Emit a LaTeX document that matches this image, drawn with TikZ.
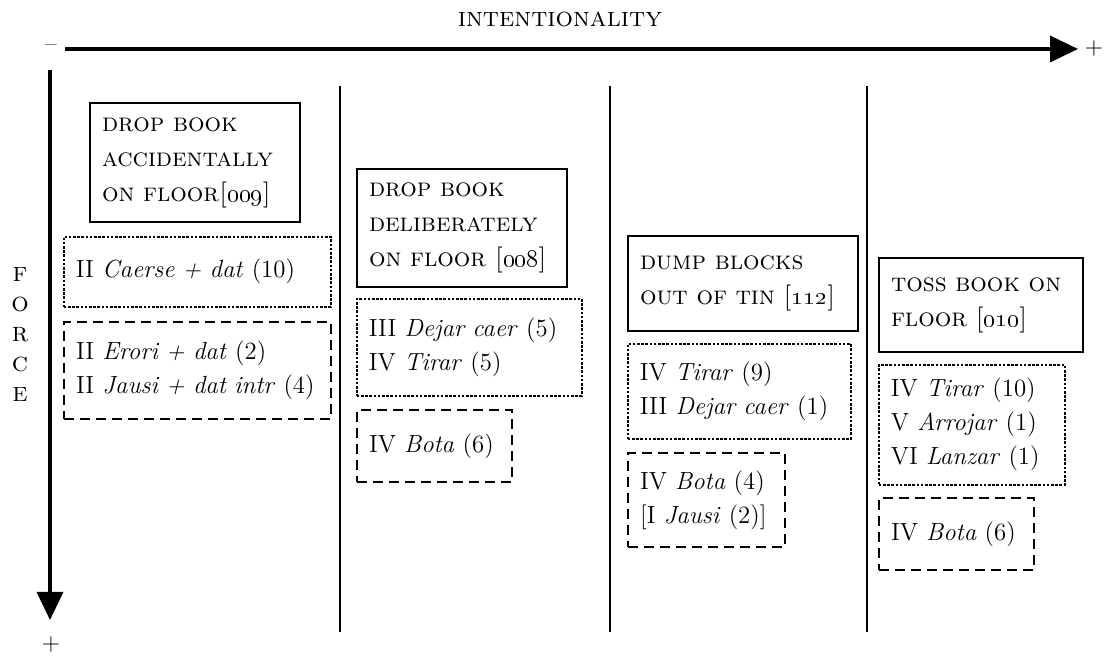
\documentclass[tikz,border=0pt]{standalone}
\usetikzlibrary{arrows.meta,positioning}
\newcommand{\evnum}[1]{[\oldstylenums{#1}]}

\begin{document}
\begin{tikzpicture}[x=0.5pt,y=-0.5pt,
  base/.style={anchor=north west,align=left,inner xsep=6pt,inner ysep=0pt,font=\fontsize{12.4}{17}\selectfont},
  size/.style 2 args={text width=#1,minimum height=#2},
  event/.style={base,draw,line width=1pt,font=\fontsize{13}{17.5}\selectfont\scshape},
  lexdot/.style={base,draw,line width=0.8pt,dash pattern=on 1.3pt off 0.8pt},
  lexdash/.style={base,draw,line width=1pt,dash pattern=on 5pt off 3pt},
  axis/.style={line width=1.8pt,-{Triangle[length=14pt,width=13pt]}},
  divider/.style={line width=0.75pt},
  lbl/.style={inner sep=0pt,font=\fontsize{13.7}{15}\selectfont\scshape},
  sign/.style={inner sep=0pt,font=\fontsize{12}{14}\selectfont}]
\useasboundingbox (0,0) rectangle (1104,657);
% axes
\coordinate (xstart) at (65,49);\coordinate (xend) at (1078,49);
\coordinate (ystart) at (50,70);\coordinate (yend) at (50,620);
\draw[axis](xstart)--(xend);\draw[axis](ystart)--(yend);
\node[lbl](intent) at (560,19){intentionality};
\node[sign](xminus) at (51,48){--};
\node[sign](xplus) at (1094,49){+};
\node[sign](yplus) at (51,645){+};
\node[lbl,align=center](force) at (20,335){f\\o\\r\\c\\e};
% columns
\coordinate (d1t) at (340,86);\coordinate (d1b) at (340,632);
\coordinate (d2t) at (610,86);\coordinate (d2b) at (610,632);
\coordinate (d3t) at (867,86);\coordinate (d3b) at (867,632);
\draw[divider](d1t)--(d1b);\draw[divider](d2t)--(d2b);\draw[divider](d3t)--(d3b);
% column 1
\node[event,size={93pt}{59.5pt}](acc) at (89,102){drop book\\accidentally\\on~floor\evnum{009}};
\node[lexdot,size={121.5pt}{35pt}](caerse) at (63,236){II \textit{Caerse + dat} (10)};
\node[lexdash,size={121.5pt}{48.5pt}](erori) at (63,321){II \textit{Erori + dat} (2)\\II~\textit{Jausi~+~dat~intr}~(4)};
% column 2
\node[event,size={93pt}{59pt}](delib) at (356,168){drop book\\deliberately\\on~floor~\evnum{008}};
\node[lexdot,size={100.5pt}{48.5pt}](dejar) at (356,298){III \textit{Dejar caer} (5)\\IV \textit{Tirar} (5)};
\node[lexdash,size={65.5pt}{36pt}](bota1) at (356,409){IV \textit{Bota} (6)};
% column 3
\node[event,size={103pt}{47.5pt}](dump) at (627,235){dump blocks\\out of tin \evnum{112}};
\node[lexdot,size={99.5pt}{47.5pt}](tirar1) at (627,343){IV \textit{Tirar} (9)\\III \textit{Dejar caer} (1)};
\node[lexdash,size={66.5pt}{47pt}](bota2) at (627,452){IV \textit{Bota} (4)\\{[}I \textit{Jausi} (2)]};
% column 4
\node[event,size={90pt}{47pt}](toss) at (878,257){toss book on\\floor \evnum{010}};
\node[lexdot,size={81pt}{60pt}](tirar2) at (878,364){IV \textit{Tirar} (10)\\V \textit{Arrojar} (1)\\VI \textit{Lanzar} (1)};
\node[lexdash,size={65.5pt}{36pt}](bota3) at (878,497){IV \textit{Bota} (6)};
\end{tikzpicture}
\end{document}
